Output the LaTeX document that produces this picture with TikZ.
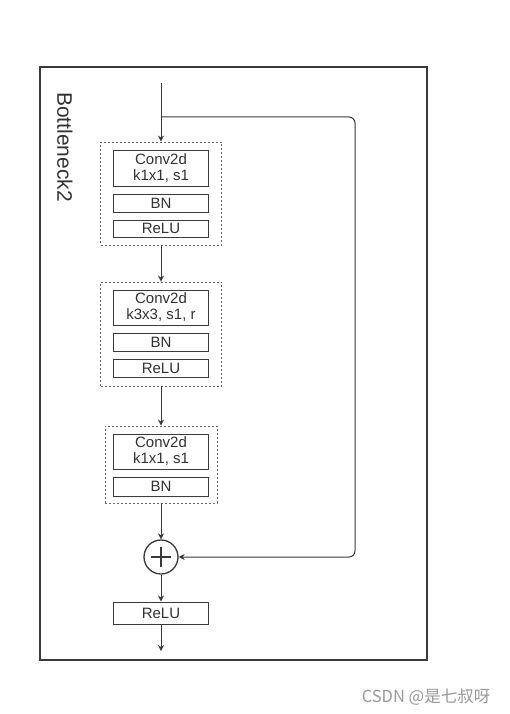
\documentclass[tikz,border=0pt]{standalone}
\usepackage{fontspec}
\setmainfont{Liberation Sans}
\newfontfamily\cjk{Noto Sans CJK SC}
\usetikzlibrary{arrows.meta}
\definecolor{ln}{HTML}{3A3A3A}
\definecolor{dsh}{HTML}{666666}
\definecolor{txt}{HTML}{333333}
\definecolor{wm}{HTML}{9A9A9A}
\tikzset{
  layer/.style={draw=ln, line width=1pt, minimum width=95pt, inner sep=0pt, align=center,
    text=txt, font=\fontsize{15}{17}\selectfont},
  group/.style={draw=dsh, line width=0.9pt, dash pattern=on 2pt off 2pt, inner sep=0pt},
  conn/.style={draw=ln, line width=1pt, -{Stealth[length=6pt,width=6pt]}},
}
\begin{document}
\begin{tikzpicture}[x=1pt,y=-1pt]
\useasboundingbox (0,0) rectangle (510,714);
\fill[white] (0,0) rectangle (510,714);
% frame
\node[draw=ln, line width=1.1pt, minimum width=387pt, minimum height=593pt, inner sep=0pt] (frame) at (233.5,363.5) {};
\node[rotate=-90, text=txt, font=\fontsize{21}{24}\selectfont] (title) at (65,147) {Bottleneck2};
% block 1
\node[group, minimum width=121pt, minimum height=103pt] (g1) at (161,193.5) {};
\node[layer, minimum height=35pt] (c1) at (161,168.5) {Conv2d\\[-1pt]k1x1, s1};
\node[layer, minimum height=18pt] (n1) at (161,203) {BN};
\node[layer, minimum height=17pt] (r1) at (161,228.5) {ReLU};
% block 2
\node[group, minimum width=121pt, minimum height=104pt] (g2) at (161,334) {};
\node[layer, minimum height=35pt] (c2) at (161,307.5) {Conv2d\\[-1pt]k3x3, s1, r};
\node[layer, minimum height=18pt] (n2) at (161,342) {BN};
\node[layer, minimum height=18pt] (r2) at (161,368) {ReLU};
% block 3
\node[group, minimum width=112pt, minimum height=77pt] (g3) at (161,464.5) {};
\node[layer, minimum height=35pt] (c3) at (161,451.5) {Conv2d\\[-1pt]k1x1, s1};
\node[layer, minimum height=19pt] (n3) at (161,486.5) {BN};
% add
\node[circle, draw=ln, line width=1.3pt, minimum size=34pt, inner sep=0pt] (add) at (161,557) {};
\draw[ln, line width=1.3pt] ([xshift=-10pt]add.center) -- ([xshift=10pt]add.center)
  ([yshift=-10pt]add.center) -- ([yshift=10pt]add.center);
\node[layer, minimum height=22pt] (r4) at (161,613) {ReLU};
% coordinates
\coordinate (in) at (161,83);
\coordinate (split) at (161,117);
\coordinate (tr) at (355,117);
\coordinate (out) at (161,651);
% connectors
\draw[conn] (in) -- (g1.north);
\draw[conn] (g1.south) -- (g2.north);
\draw[conn] (g2.south) -- (g3.north);
\draw[conn] (g3.south) -- (add.north);
\draw[conn] (add.south) -- (r4.north);
\draw[conn] (r4.south) -- (out);
\draw[conn, rounded corners=6pt] (split) -- (tr) |- (add.east);
% watermark
\node[text=wm, font=\cjk\fontsize{16.5}{18}\selectfont] (wmk) at (426,697) {CSDN @是七叔呀};
\end{tikzpicture}
\end{document}
